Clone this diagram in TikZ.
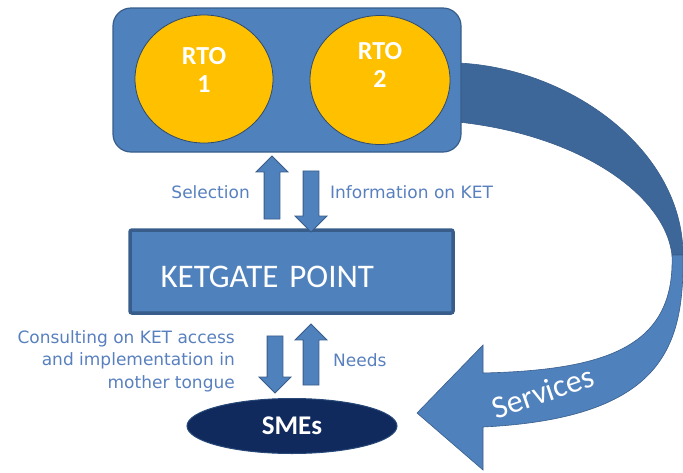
\documentclass[tikz,border=0pt]{standalone}
\usepackage{fontspec}
\setmainfont{Carlito}
\newfontfamily\lblfont{DejaVu Sans}
\usepackage{xcolor}
\usepackage{tikz}
\usetikzlibrary{shapes.geometric,shapes.arrows}

\definecolor{boxblue}{RGB}{79,129,189}
\definecolor{edgeblue}{RGB}{56,93,138}
\definecolor{backblue}{RGB}{62,103,153}
\definecolor{rtoyellow}{RGB}{255,192,0}
\definecolor{smenavy}{RGB}{16,42,94}
\definecolor{lblblue}{RGB}{88,128,190}

\begin{document}
\begin{tikzpicture}[x=1pt,y=-1pt,
  blockarrow/.style={single arrow,draw=edgeblue,fill=boxblue,line width=0.8pt,
    inner xsep=0pt,inner ysep=7.5pt,single arrow head extend=8pt},
  rto/.style={ellipse,draw=edgeblue!80!black,fill=rtoyellow,line width=0.8pt,
    text=white,align=center,font=\fontsize{26}{28}\selectfont\bfseries},
  lbl/.style={text=lblblue,font=\lblfont\fontsize{17}{22.5}\selectfont,inner sep=0pt}]
  \useasboundingbox (0,0) rectangle (683,472);

  % curved services arrow (back and front part)
  \draw[fill=backblue,draw=edgeblue,line width=0.6pt]
    (458,63) .. controls (570,68) and (683,150) .. (683,255)
    -- (672,255) .. controls (665,195) and (580,135) .. (458,122) -- cycle;
  \draw[fill=boxblue,draw=edgeblue,line width=0.6pt]
    (683,255) .. controls (684,345) and (665,418) .. (483,427)
    -- (483,470) -- (417,413) -- (483,345) -- (483,373)
    .. controls (610,370) and (675,345) .. (672,255) -- cycle;
  \node[rotate=19,text=white,font=\fontsize{32}{36}\selectfont] (services) at (543,392) {Services};

  \node[draw=edgeblue,fill=boxblue,line width=1.2pt,rounded corners=18pt,
    minimum width=348pt,minimum height=144pt] (top) at (287,80) {};
  \node[rto,minimum width=138pt,minimum height=128pt,text depth=18pt] (rto1) at (204,79) {RTO\\1};
  \node[rto,minimum width=140pt,minimum height=129pt,text depth=30pt] (rto2) at (380,80) {RTO\\2};

  \node[draw=edgeblue,fill=boxblue,line width=3.5pt,rounded corners=2pt,
    minimum width=323pt,minimum height=83pt,text width=262pt,inner xsep=30pt,
    text height=32pt,align=left,text=white,font=\fontsize{33}{38}\selectfont] (gate) at (291.5,271.5) {KETGATE POINT};

  \node[ellipse,draw=edgeblue!60!smenavy,fill=smenavy,line width=1pt,minimum width=210pt,
    minimum height=55pt,text=white,font=\fontsize{27}{30}\selectfont\bfseries] (smes) at (292,426) {SMEs};

  \node[blockarrow,rotate=90,minimum height=63pt] (sel) at (272,191.5) {};
  \node[blockarrow,rotate=-90,minimum height=61pt] (info) at (311,197.5) {};
  \node[blockarrow,rotate=-90,minimum height=57pt] (consult) at (275,360.5) {};
  \node[blockarrow,rotate=90,minimum height=61pt] (needs) at (311,358.5) {};

  \node[lbl,anchor=east] (sellbl) at (250,192) {Selection};
  \node[lbl,anchor=west] (infolbl) at (330,192) {Information on KET};
  \node[lbl,anchor=east,align=right] (consultlbl) at (235,361) {Consulting on KET access\\and implementation in\\mother tongue};
  \node[lbl,anchor=west] (needslbl) at (333,360) {Needs};
\end{tikzpicture}
\end{document}
